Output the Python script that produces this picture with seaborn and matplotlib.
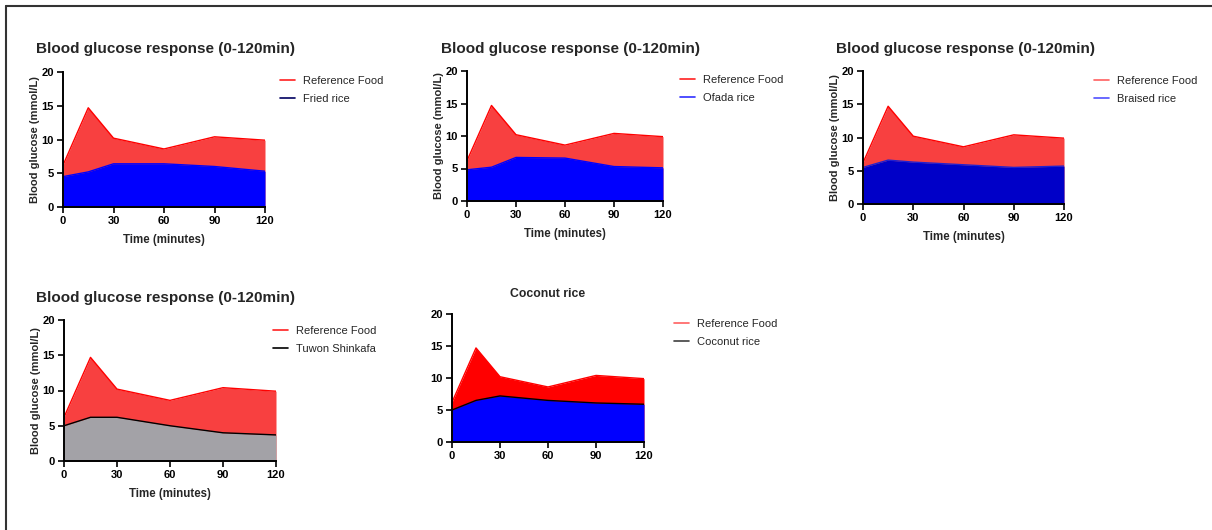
import numpy as np
import pandas as pd
import matplotlib
matplotlib.use("Agg")
import matplotlib.pyplot as plt
from matplotlib.lines import Line2D
import seaborn as sns

sns.set_style("ticks")
plt.rcParams['font.family'] = ['Liberation Sans', 'DejaVu Sans']

time_min = [0, 15, 30, 60, 90, 120]
reference_food = [6.2, 14.7, 10.2, 8.6, 10.4, 9.9]
fried_rice = [4.5, 5.2, 6.4, 6.4, 6.0, 5.3]
ofada_rice = [4.8, 5.2, 6.7, 6.6, 5.3, 5.1]
braised_rice = [5.5, 6.6, 6.3, 5.9, 5.5, 5.7]
tuwon_shinkafa = [5.0, 6.2, 6.2, 5.0, 4.0, 3.7]
coconut_rice = [5.0, 6.5, 7.2, 6.5, 6.1, 5.9]

W, H = 1212, 530
fig = plt.figure(figsize=(W / 100, H / 100), dpi=100)

# panel boxes in pixels: left, top, right, bottom
panels = [
    dict(box=(63, 72, 265, 207), name="Fried rice", vals=fried_rice,
         ref_fill="#F84040", fill="#0000FF", edge="#0000FF",
         leg=("#FF2020", "#000060"), title="Blood glucose response (0-120min)",
         tpos=(36, 49), lpos=(280, 82), labels=True),
    dict(box=(467, 71, 663, 201), name="Ofada rice", vals=ofada_rice,
         ref_fill="#F84040", fill="#0000FF", edge="#0000FF",
         leg=("#FF2020", "#3030FF"), title="Blood glucose response (0-120min)",
         tpos=(441, 49), lpos=(680, 81), labels=True),
    dict(box=(863, 71, 1064, 204), name="Braised rice", vals=braised_rice,
         ref_fill="#F84040", fill="#0000C8", edge="#2020D0",
         leg=("#FF6060", "#5050FF"), title="Blood glucose response (0-120min)",
         tpos=(836, 49), lpos=(1094, 82), labels=True),
    dict(box=(64, 320, 276, 461), name="Tuwon Shinkafa", vals=tuwon_shinkafa,
         ref_fill="#F84040", fill="#A3A2A7", edge="#000000",
         leg=("#FF2020", "#000000"), title="Blood glucose response (0-120min)",
         tpos=(36, 298), lpos=(273, 332), labels=True),
    dict(box=(452, 314, 644, 442), name="Coconut rice", vals=coconut_rice,
         ref_fill="#FF0000", fill="#0000FF", edge="#000000",
         leg=("#FF6060", "#404040"), title="Coconut rice",
         tpos=(548, 294), lpos=(674, 325), labels=False),
]

for p in panels:
    l, t, r, b = p["box"]
    ax = fig.add_axes([l / W, 1 - b / H, (r - l) / W, (b - t) / H])
    df = pd.DataFrame({
        "time": time_min * 2,
        "glucose": reference_food + p["vals"],
        "food": ["Reference Food"] * 6 + [p["name"]] * 6,
    })
    ax.fill_between(time_min, 0, reference_food, color=p["ref_fill"], lw=0)
    ax.fill_between(time_min, 0, p["vals"], color=p["fill"], lw=0)
    sns.lineplot(data=df, x="time", y="glucose", hue="food",
                 palette={"Reference Food": "#FF0000", p["name"]: p["edge"]},
                 linewidth=1.0, ax=ax, legend=False)
    ax.set_xlim(0, 120)
    ax.set_ylim(0, 20)
    ax.set_xticks([0, 30, 60, 90, 120])
    ax.set_yticks([0, 5, 10, 15, 20])
    sns.despine(ax=ax)
    for s in ["left", "bottom"]:
        ax.spines[s].set_linewidth(1.4)
        ax.spines[s].set_color("black")
    ax.tick_params(length=4, width=1.2, labelsize=8, pad=2.5, colors="black")
    for lab in ax.get_xticklabels() + ax.get_yticklabels():
        lab.set_fontweight("bold")
    if p["labels"]:
        ax.set_xlabel("Time (minutes)", fontsize=8.3, fontweight="bold", labelpad=6)
        ax.set_ylabel("Blood glucose (mmol/L)", fontsize=8, fontweight="bold", labelpad=1)
    else:
        ax.set_xlabel("")
        ax.set_ylabel("")

    if p["labels"]:
        fig.text(p["tpos"][0] / W, 1 - p["tpos"][1] / H, p["title"],
                 fontsize=11, fontweight="bold", ha="left", va="center")
    else:
        fig.text(p["tpos"][0] / W, 1 - p["tpos"][1] / H, p["title"],
                 fontsize=8.8, fontweight="bold", ha="center", va="center")

    handles = [Line2D([], [], color=p["leg"][0], lw=1.2),
               Line2D([], [], color=p["leg"][1], lw=1.2)]
    lx, ly = p["lpos"]
    ax.legend(handles, ["Reference Food", p["name"]], loc="upper left",
              bbox_to_anchor=(lx / W, 1 - (ly - 6) / H), bbox_transform=fig.transFigure,
              frameon=False, fontsize=8, handlelength=1.35, handletextpad=0.7,
              borderpad=0, borderaxespad=0, labelspacing=0.75)

# outer frame (top and left edges visible)
fig.add_artist(Line2D([6 / W, 6 / W], [0, 1 - 6 / H], color="#333333", lw=1.5,
                      transform=fig.transFigure))
fig.add_artist(Line2D([6 / W, 1], [1 - 6 / H, 1 - 6 / H], color="#333333", lw=1.5,
                      transform=fig.transFigure))

fig.savefig("out.png", dpi=100)
